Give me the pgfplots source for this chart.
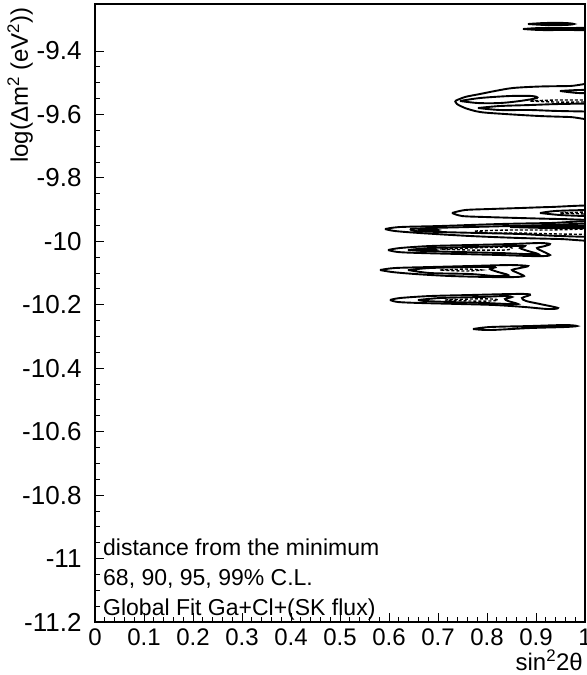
\documentclass[border=0pt]{standalone}
\usepackage{pgfplots}
\pgfplotsset{compat=1.18}
\usepackage{fontspec}
\setmainfont{Liberation Sans}
\newcommand{\lblfont}{\fontsize{23bp}{27bp}\selectfont}
\newcommand{\tickfont}{\fontsize{24bp}{28bp}\selectfont}
\newcommand{\ytickfont}{\fontsize{26bp}{30bp}\selectfont}
\begin{document}
\begin{tikzpicture}
\begin{axis}[
  scale only axis, width=490bp, height=618bp,
  xmin=0, xmax=1, ymin=-11.2, ymax=-9.2518,
  xtick={0,0.1,0.2,0.3,0.4,0.5,0.6,0.7,0.8,0.9,1},
  xticklabels={0,0.1,0.2,0.3,0.4,0.5,0.6,0.7,0.8,0.9,1},
  ytick={-11.2,-11,-10.8,-10.6,-10.4,-10.2,-10,-9.8,-9.6,-9.4},
  yticklabels={-11.2,-11,-10.8,-10.6,-10.4,-10.2,-10,-9.8,-9.6,-9.4},
  minor x tick num=4, minor y tick num=3,
  tick pos=left, tick align=inside,
  major tick length=9bp, minor tick length=5bp,
  every tick/.style={black, line width=0.9bp},
  xticklabel style={font=\tickfont, yshift=-3bp},
  yticklabel style={font=\ytickfont, xshift=-10bp},
  axis line style={line width=1.3bp},
  clip=true,
  cl/.style={black, line width=1.9bp, smooth, tension=0.5},
  cd/.style={black, line width=1.4bp, densely dashed, smooth, tension=0.5},
]
% band A (top)
\addplot[cl] coordinates {(0.8837,-9.3149) (0.9184,-9.3117) (0.9592,-9.3117) (0.9776,-9.3149) (0.9592,-9.3180) (0.9184,-9.3180) (0.8837,-9.3149)};
\addplot[cl] coordinates {(0.8735,-9.3306) (0.9082,-9.3275) (0.9592,-9.3275) (1.0306,-9.3275) (1.0306,-9.3338) (0.9592,-9.3338) (0.9082,-9.3338) (0.8735,-9.3306)};
% band D
\addplot[cl] coordinates {(0.7347,-9.5576) (0.7551,-9.5450) (0.7857,-9.5356) (0.8163,-9.5261) (0.8531,-9.5166) (0.9082,-9.5119) (0.9694,-9.5103) (1.0306,-9.5072) (1.0306,-9.6113) (0.9694,-9.6081) (0.9082,-9.6050) (0.8367,-9.5986) (0.7857,-9.5923) (0.7551,-9.5797) (0.7388,-9.5671) (0.7347,-9.5576)};
\addplot[cl] coordinates {(0.7449,-9.5576) (0.7857,-9.5482) (0.8469,-9.5419) (0.8918,-9.5419) (0.9020,-9.5482) (0.8673,-9.5576) (0.8265,-9.5640) (0.7816,-9.5640) (0.7449,-9.5576)};
\addplot[cl] coordinates {(0.7816,-9.5797) (0.8265,-9.5734) (0.8878,-9.5703) (0.9490,-9.5671) (1.0306,-9.5671) (1.0306,-9.5892) (0.9490,-9.5892) (0.8878,-9.5860) (0.8265,-9.5860) (0.7816,-9.5797)};
\addplot[cd] coordinates {(0.8878,-9.5576) (0.9388,-9.5545) (1.0,-9.5545) (1.0306,-9.5545) (1.0306,-9.5608) (1.0,-9.5608) (0.9388,-9.5608) (0.8878,-9.5576)};
\addplot[cl] coordinates {(0.9490,-9.5261) (0.9857,-9.5230) (1.0306,-9.5230) (1.0306,-9.5324) (0.9857,-9.5324) (0.9490,-9.5261)};
% band E
\addplot[cl] coordinates {(0.7286,-9.9107) (0.7551,-9.9013) (0.8061,-9.8981) (0.8673,-9.8950) (0.9286,-9.8918) (1.0306,-9.8887) (1.0306,-9.9296) (0.9490,-9.9296) (0.8673,-9.9265) (0.7959,-9.9233) (0.7490,-9.9202) (0.7286,-9.9107)};
\addplot[cl] coordinates {(0.9082,-9.9107) (0.9388,-9.9044) (1.0,-9.9013) (1.0306,-9.9013) (1.0306,-9.9202) (1.0,-9.9202) (0.9490,-9.9170) (0.9082,-9.9107)};
\addplot[cd] coordinates {(0.9490,-9.9107) (1.0,-9.9076) (1.0306,-9.9076) (1.0306,-9.9139) (1.0,-9.9139) (0.9490,-9.9107)};
% band F
\addplot[cl] coordinates {(0.5918,-9.9612) (0.6224,-9.9549) (0.7041,-9.9517) (0.8265,-9.9454) (0.9286,-9.9422) (1.0306,-9.9391) (1.0306,-9.9958) (0.9490,-9.9927) (0.8673,-9.9895) (0.7653,-9.9832) (0.6633,-9.9738) (0.6122,-9.9675) (0.5918,-9.9612)};
\addplot[cl] coordinates {(0.6429,-9.9612) (0.6837,-9.9580) (0.7653,-9.9549) (0.8469,-9.9517) (0.9286,-9.9485) (1.0306,-9.9454) (1.0306,-9.9832) (0.9490,-9.9832) (0.8673,-9.9769) (0.7857,-9.9738) (0.7041,-9.9706) (0.6531,-9.9675) (0.6429,-9.9612)};
\addplot[cd] coordinates {(0.7755,-9.9675) (0.8469,-9.9643) (0.9286,-9.9643) (1.0306,-9.9612) (1.0306,-9.9769) (0.9490,-9.9769) (0.8673,-9.9738) (0.8061,-9.9738) (0.7755,-9.9675)};
\addplot[cl] coordinates {(0.8469,-9.9549) (0.9286,-9.9517) (1.0306,-9.9517) (1.0306,-9.9580) (0.9286,-9.9580) (0.8469,-9.9549)};
\addplot[cl] coordinates {(0.6592,-9.9643) (0.6796,-9.9612) (0.7000,-9.9643) (0.6796,-9.9675) (0.6592,-9.9643)};
% band G
\addplot[cl] coordinates {(0.5980,-10.0274) (0.6224,-10.0211) (0.6837,-10.0148) (0.7653,-10.0116) (0.8469,-10.0085) (0.9082,-10.0053) (0.9286,-10.0085) (0.9184,-10.0148) (0.9020,-10.0211) (0.9122,-10.0305) (0.9286,-10.0431) (0.9184,-10.0463) (0.8878,-10.0463) (0.8265,-10.0431) (0.7449,-10.0400) (0.6633,-10.0368) (0.6184,-10.0337) (0.5980,-10.0274)};
\addplot[cl] coordinates {(0.6388,-10.0274) (0.6837,-10.0211) (0.7653,-10.0179) (0.8469,-10.0148) (0.8776,-10.0148) (0.8673,-10.0211) (0.8837,-10.0305) (0.9041,-10.0400) (0.8776,-10.0400) (0.8265,-10.0368) (0.7449,-10.0337) (0.6735,-10.0305) (0.6388,-10.0274)};
\addplot[cd] coordinates {(0.7041,-10.0242) (0.7653,-10.0211) (0.8367,-10.0179) (0.8510,-10.0211) (0.8367,-10.0274) (0.7653,-10.0274) (0.7041,-10.0242)};
\addplot[cl] coordinates {(0.6551,-10.0274) (0.6755,-10.0242) (0.6959,-10.0274) (0.6755,-10.0305) (0.6551,-10.0274)};
% band H
\addplot[cl] coordinates {(0.5816,-10.0904) (0.6122,-10.0841) (0.6837,-10.0810) (0.7653,-10.0778) (0.8469,-10.0747) (0.8837,-10.0778) (0.8673,-10.0841) (0.8510,-10.0904) (0.8633,-10.0999) (0.8755,-10.1093) (0.8571,-10.1125) (0.8061,-10.1125) (0.7245,-10.1093) (0.6531,-10.1030) (0.6061,-10.0967) (0.5816,-10.0904)};
\addplot[cl] coordinates {(0.6388,-10.0904) (0.6837,-10.0841) (0.7653,-10.0810) (0.8163,-10.0810) (0.8061,-10.0873) (0.8224,-10.0967) (0.8429,-10.1062) (0.8163,-10.1093) (0.7653,-10.1030) (0.6837,-10.0999) (0.6388,-10.0904)};
\addplot[cd] coordinates {(0.7041,-10.0904) (0.7551,-10.0873) (0.7898,-10.0904) (0.7551,-10.0936) (0.7041,-10.0904)};
% band I
\addplot[cl] coordinates {(0.6020,-10.1850) (0.6224,-10.1787) (0.6837,-10.1724) (0.7653,-10.1692) (0.8469,-10.1661) (0.8816,-10.1661) (0.8878,-10.1692) (0.8714,-10.1787) (0.8796,-10.1881) (0.9082,-10.1976) (0.9449,-10.2102) (0.9245,-10.2134) (0.8776,-10.2071) (0.8163,-10.2008) (0.7449,-10.1976) (0.6633,-10.1944) (0.6184,-10.1913) (0.6020,-10.1850)};
\addplot[cl] coordinates {(0.6592,-10.1850) (0.7041,-10.1787) (0.7857,-10.1755) (0.8367,-10.1724) (0.8510,-10.1755) (0.8367,-10.1818) (0.8429,-10.1881) (0.8633,-10.1976) (0.8429,-10.1976) (0.7959,-10.1944) (0.7245,-10.1913) (0.6735,-10.1881) (0.6592,-10.1850)};
\addplot[cd] coordinates {(0.7143,-10.1850) (0.7653,-10.1818) (0.8102,-10.1818) (0.8224,-10.1850) (0.8061,-10.1881) (0.7653,-10.1881) (0.7143,-10.1850)};
% band J
\addplot[cl] coordinates {(0.7714,-10.2764) (0.8061,-10.2701) (0.8878,-10.2670) (0.9592,-10.2638) (0.9837,-10.2670) (0.9592,-10.2701) (0.8878,-10.2733) (0.8061,-10.2796) (0.7714,-10.2764)};
% text block
\node[anchor=base west, inner sep=0pt, font=\lblfont] at ([xshift=8bp,yshift=66bp]rel axis cs:0,0) {distance from the minimum};
\node[anchor=base west, inner sep=0pt, font=\lblfont] at ([xshift=8bp,yshift=37bp]rel axis cs:0,0) {68, 90, 95, 99\% C.L.};
\node[anchor=base west, inner sep=0pt, font=\lblfont] at ([xshift=8bp,yshift=7bp]rel axis cs:0,0) {Global Fit Ga+Cl+(SK flux)};
\end{axis}
\node[rotate=90, anchor=base east, inner sep=0pt, font=\tickfont] at ([xshift=-67bp,yshift=-3bp]current axis.north west) {log(Δm\textsuperscript{2} (eV\textsuperscript{2}))};
\node[anchor=base east, inner sep=0pt, font=\tickfont] at ([xshift=-2bp,yshift=-48bp]current axis.south east) {sin\textsuperscript{2}2θ};
\pgfresetboundingbox
\path[use as bounding box] ([xshift=-95bp,yshift=-53bp]current axis.south west) rectangle ([xshift=2bp,yshift=4bp]current axis.north east);
\end{tikzpicture}
\end{document}
